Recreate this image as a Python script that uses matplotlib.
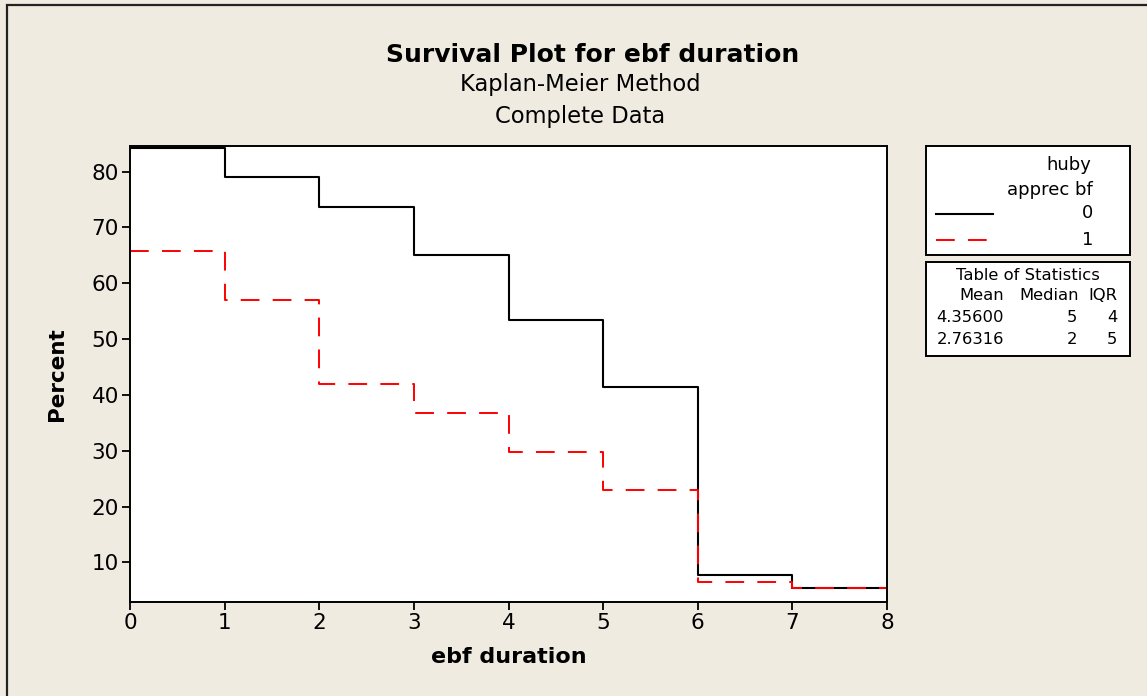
import numpy as np
import matplotlib
matplotlib.use("Agg")
import matplotlib.pyplot as plt
from matplotlib.patches import Rectangle
from matplotlib.lines import Line2D

# data
times = [0, 1, 2, 3, 4, 5, 6, 7, 8]
surv_0 = [84.3, 79.1, 73.6, 65.0, 53.4, 41.4, 7.7, 5.4]
surv_1 = [65.7, 57.0, 42.0, 36.7, 29.7, 22.9, 6.5, 5.4]
group_labels = ["0", "1"]
stats_rows = [["4.35600", "5", "4"], ["2.76316", "2", "5"]]

W, H = 1147, 696
bg = "#efebe1"
plt.rcParams["font.family"] = ["DejaVu Sans"]
plt.rcParams["lines.scale_dashes"] = False

fig = plt.figure(figsize=(W / 100, H / 100), dpi=100, facecolor=bg)


def fx(px):
    return px / W


def fy(py):
    return 1 - py / H


# outer frame (cut at right and bottom)
fig.patches.append(Rectangle((fx(7), -0.2), 1.2, fy(5) + 0.2, transform=fig.transFigure,
                             fill=False, edgecolor="#222222", linewidth=1.6))

ax = fig.add_axes([fx(130), fy(602), fx(887) - fx(130), fy(146) - fy(602)])
ax.set_facecolor("white")

y0 = surv_0 + [surv_0[-1]]
y1 = surv_1 + [surv_1[-1]]
ax.step(times, y0, where="post", color="black", linewidth=1.5)
ax.step(times, y1, where="post", color="#ff0000", linewidth=1.4, dashes=(13.5, 9.5))

ax.set_xlim(0, 8)
ax.set_ylim(2.9, 84.6)
ax.set_xticks(range(0, 9))
ax.set_yticks(range(10, 90, 10))
ax.tick_params(direction="out", length=6, width=1.3, labelsize=15.5, pad=2)
for s in ax.spines.values():
    s.set_linewidth(1.4)

ax.set_xlabel("ebf duration", fontsize=16, fontweight="bold", labelpad=10)
ax.set_ylabel("Percent", fontsize=15.5, fontweight="bold", labelpad=18)

fig.text(fx(593), fy(55), "Survival Plot for ebf duration", fontsize=18,
         fontweight="bold", ha="center", va="center")
fig.text(fx(580), fy(85), "Kaplan-Meier Method", fontsize=16.3, ha="center", va="center")
fig.text(fx(580), fy(116), "Complete Data", fontsize=16.3, ha="center", va="center")

# legend box
fig.patches.append(Rectangle((fx(926), fy(255)), fx(1130) - fx(926), fy(146) - fy(255),
                             transform=fig.transFigure, facecolor="white",
                             edgecolor="black", linewidth=1.4))
fs = 13
fig.text(fx(1091), fy(165), "huby", fontsize=fs, ha="right", va="center")
fig.text(fx(1093), fy(190), "apprec bf", fontsize=fs, ha="right", va="center")
fig.text(fx(1093), fy(213), group_labels[0], fontsize=fs, ha="right", va="center")
fig.text(fx(1093), fy(240), group_labels[1], fontsize=fs, ha="right", va="center")
fig.lines.append(Line2D([fx(936), fx(993)], [fy(214), fy(214)], transform=fig.transFigure,
                        color="black", linewidth=1.5))
fig.lines.append(Line2D([fx(936), fx(990)], [fy(240), fy(240)], transform=fig.transFigure,
                        color="#ff0000", linewidth=1.4, dashes=(13.5, 9.5)))

# statistics box
fig.patches.append(Rectangle((fx(926), fy(356)), fx(1130) - fx(926), fy(262) - fy(356),
                             transform=fig.transFigure, facecolor="white",
                             edgecolor="black", linewidth=1.4))
fs2 = 11.8
fig.text(fx(1028), fy(275), "Table of Statistics", fontsize=fs2, ha="center", va="center")
fig.text(fx(1004), fy(296), "Mean", fontsize=fs2, ha="right", va="center")
fig.text(fx(1079), fy(296), "Median", fontsize=fs2, ha="right", va="center")
fig.text(fx(1118), fy(296), "IQR", fontsize=fs2, ha="right", va="center")
for i, row in enumerate(stats_rows):
    yy = fy(318 + 22 * i)
    fig.text(fx(1004), yy, row[0], fontsize=fs2, ha="right", va="center")
    fig.text(fx(1077), yy, row[1], fontsize=fs2, ha="right", va="center")
    fig.text(fx(1117), yy, row[2], fontsize=fs2, ha="right", va="center")

fig.savefig("out.png", dpi=100, facecolor=bg)
